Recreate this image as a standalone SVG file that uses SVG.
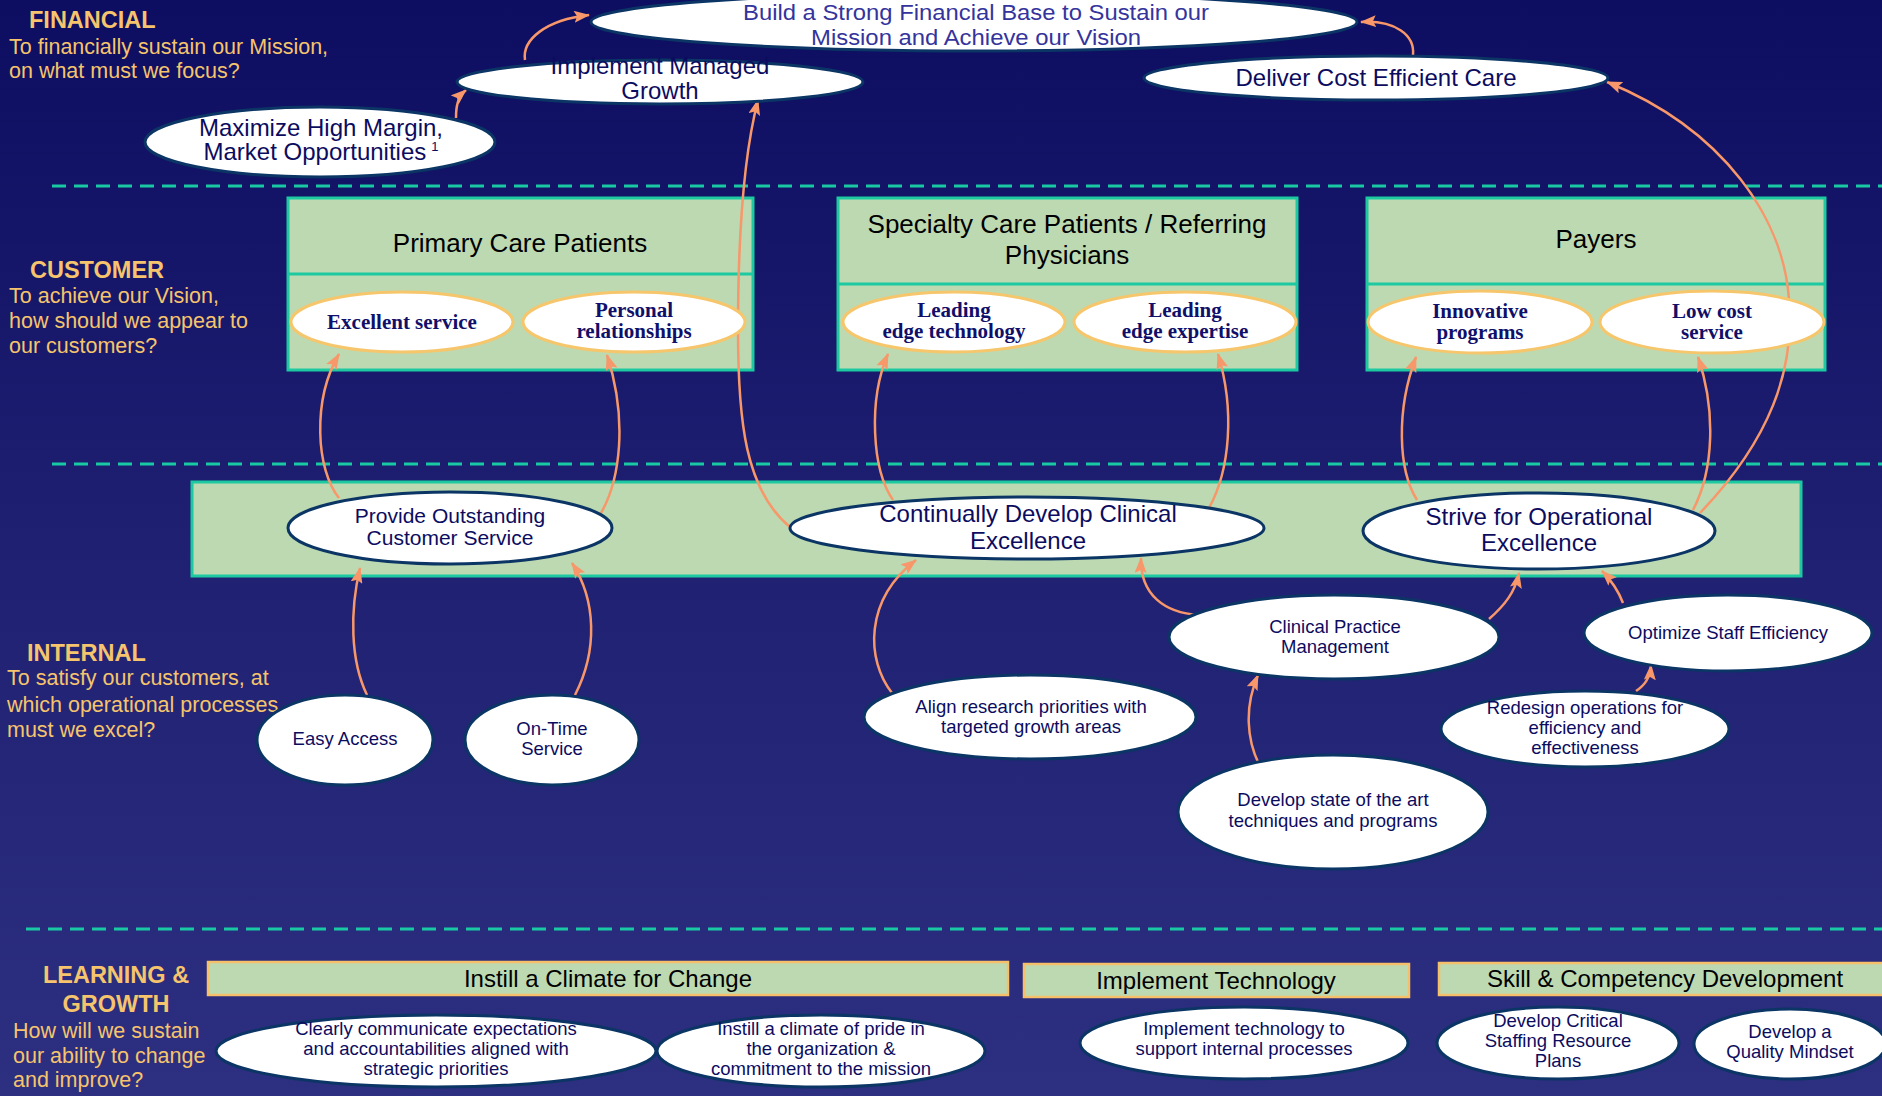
<svg xmlns="http://www.w3.org/2000/svg" width="1882" height="1096" viewBox="0 0 1882 1096">
<defs>
<linearGradient id="bg" x1="0" y1="0" x2="0" y2="1">
<stop offset="0" stop-color="#0d0d61"/>
<stop offset="0.5" stop-color="#1f2072"/>
<stop offset="1" stop-color="#2d2f80"/>
</linearGradient>
<marker id="ah" viewBox="0 0 16 12" refX="15" refY="6" markerWidth="16" markerHeight="12" markerUnits="userSpaceOnUse" orient="auto">
<path d="M0,0 L16,6 L0,12 L3,6 z" fill="#f7976a"/>
</marker>
<style>
.lbl{font-family:"Liberation Sans",Arial,sans-serif;fill:#f6c46c;}
.hd{font-size:23.5px;font-weight:bold;}
.sub{font-size:21.5px;}
.div{stroke:#19c9a3;stroke-width:3;stroke-dasharray:14 8;fill:none;}
.node{fill:#fff;stroke:#0b3565;stroke-width:3;}
.cnode{fill:#fff;stroke:#f6c66c;stroke-width:3;}
.box{fill:#bdd9b1;stroke:#1cc9a0;stroke-width:3;}
.lbox{fill:#bdd9b1;stroke:#f6c06a;stroke-width:2.5;}
.t{font-family:"Liberation Sans",Arial,sans-serif;fill:#0c0c5f;text-anchor:middle;}
.ts{font-family:"Liberation Serif","Times New Roman",serif;font-weight:bold;fill:#10106a;text-anchor:middle;font-size:21px;}
.tb{font-family:"Liberation Sans",Arial,sans-serif;fill:#000;text-anchor:middle;}
.f24{font-size:24px;}
.f22{font-size:22px;}
.f21{font-size:21px;}
.f18{font-size:18.5px;}
.f26{font-size:26px;}
.c{fill:none;stroke:#f7976a;stroke-width:2.5;marker-end:url(#ah);}
</style>
</defs>
<rect x="0" y="0" width="1882" height="1096" fill="url(#bg)"/>

<g id="labels">
<text class="lbl hd" x="29" y="28">FINANCIAL</text>
<text class="lbl sub" x="9" y="54">To financially sustain our Mission,</text>
<text class="lbl sub" x="9" y="78">on what must we focus?</text>
<text class="lbl hd" x="30" y="278">CUSTOMER</text>
<text class="lbl sub" x="9" y="303">To achieve our Vision,</text>
<text class="lbl sub" x="9" y="328">how should we appear to</text>
<text class="lbl sub" x="9" y="353">our customers?</text>
<text class="lbl hd" x="27" y="661">INTERNAL</text>
<text class="lbl sub" x="7" y="685">To satisfy our customers, at</text>
<text class="lbl sub" x="7" y="712">which operational processes</text>
<text class="lbl sub" x="7" y="737">must we excel?</text>
<text class="lbl hd" x="116" y="983" text-anchor="middle">LEARNING &amp;</text>
<text class="lbl hd" x="116" y="1012" text-anchor="middle">GROWTH</text>
<text class="lbl sub" x="13" y="1038">How will we sustain</text>
<text class="lbl sub" x="13" y="1063">our ability to change</text>
<text class="lbl sub" x="13" y="1087">and improve?</text>
</g>

<g id="dividers">
<line class="div" x1="52" y1="186" x2="1882" y2="186"/>
<line class="div" x1="52" y1="464" x2="1882" y2="464"/>
<line class="div" x1="26" y1="929" x2="1882" y2="929"/>
</g>

<g id="customer-boxes">
<g id="box-primary">
<rect class="box" x="288" y="198" width="465" height="172"/>
<line x1="288" y1="274" x2="753" y2="274" stroke="#1cc9a0" stroke-width="3"/>
<text class="tb f26" x="520" y="252">Primary Care Patients</text>
</g>
<g id="box-specialty">
<rect class="box" x="838" y="198" width="459" height="172"/>
<line x1="838" y1="284" x2="1297" y2="284" stroke="#1cc9a0" stroke-width="3"/>
<text class="tb f26" x="1067" y="233">Specialty Care Patients / Referring</text>
<text class="tb f26" x="1067" y="264">Physicians</text>
</g>
<g id="box-payers">
<rect class="box" x="1367" y="198" width="458" height="172"/>
<line x1="1367" y1="284" x2="1825" y2="284" stroke="#1cc9a0" stroke-width="3"/>
<text class="tb f26" x="1596" y="248">Payers</text>
</g>
</g>

<g id="internal-band">
<rect class="box" x="192" y="482" width="1609" height="94"/>
</g>

<g id="learning-boxes">
<g id="box-climate">
<rect class="lbox" x="208" y="962" width="800" height="33"/>
<text class="tb f24" x="608" y="987">Instill a Climate for Change</text>
</g>
<g id="box-technology">
<rect class="lbox" x="1024" y="964" width="385" height="33"/>
<text class="tb f24" x="1216" y="989">Implement Technology</text>
</g>
<g id="box-skill">
<rect class="lbox" x="1439" y="963" width="460" height="32"/>
<text class="tb f24" x="1665" y="987">Skill &amp; Competency Development</text>
</g>
</g>

<g id="connectors">
<path class="c" d="M456,118 C456,105 458,97 466,90"/>
<path class="c" d="M525,60 C522,40 545,20 589,15"/>
<path class="c" d="M1413,55 C1415,35 1395,20 1361,22"/>
<path class="c" d="M790,527 C745,490 738,420 738,330 C738,230 745,150 758,100"/>
<path class="c" d="M1700,513 C1770,440 1795,370 1789,300 C1784,220 1725,130 1607,82"/>
<path class="c" d="M339,498 C316,470 312,400 339,354"/>
<path class="c" d="M601,513 C620,480 628,420 607,355"/>
<path class="c" d="M367,695 C350,660 350,610 360,568"/>
<path class="c" d="M575,695 C598,650 596,600 572,563"/>
<path class="c" d="M893,500 C872,470 868,400 888,354"/>
<path class="c" d="M1209,508 C1230,470 1235,410 1218,354"/>
<path class="c" d="M1417,500 C1398,470 1396,410 1416,357"/>
<path class="c" d="M1693,510 C1714,470 1716,410 1698,357"/>
<path class="c" d="M892,693 C866,660 864,600 916,560"/>
<path class="c" d="M1199,615 C1165,613 1140,595 1141,558"/>
<path class="c" d="M1489,619 C1505,605 1515,592 1519,573"/>
<path class="c" d="M1623,603 C1618,590 1611,580 1602,571"/>
<path class="c" d="M1636,691 C1645,685 1650,678 1651,665"/>
<path class="c" d="M1262,770 C1245,740 1245,705 1258,675"/>
</g>

<g id="n-build">
<ellipse class="node" cx="974" cy="22" rx="383" ry="29"/>
<text class="t f22" x="976" y="20" textLength="466" lengthAdjust="spacingAndGlyphs" style="fill:#34349c">Build a Strong Financial Base to Sustain our</text>
<text class="t f22" x="976" y="45" textLength="330" lengthAdjust="spacingAndGlyphs" style="fill:#34349c">Mission and Achieve our Vision</text>
</g>
<g id="n-managed">
<ellipse class="node" cx="660" cy="82" rx="203" ry="22"/>
<text class="t f24" x="660" y="74">Implement Managed</text>
<text class="t f24" x="660" y="99">Growth</text>
</g>
<g id="n-maximize">
<ellipse class="node" cx="320" cy="142" rx="175" ry="35"/>
<text class="t f24" x="321" y="136">Maximize High Margin,</text>
<text class="t f24" x="321" y="160">Market Opportunities<tspan dx="5" dy="-9" font-size="13">1</tspan></text>
</g>
<g id="n-deliver">
<ellipse class="node" cx="1376" cy="78" rx="232" ry="22"/>
<text class="t f24" x="1376" y="86">Deliver Cost Efficient Care</text>
</g>

<g id="n-excellent">
<ellipse class="cnode" cx="402" cy="322" rx="111" ry="30"/>
<text class="ts" x="402" y="329">Excellent service</text>
</g>
<g id="n-personal">
<ellipse class="cnode" cx="634" cy="322" rx="111" ry="30"/>
<text class="ts" x="634" y="317">Personal</text>
<text class="ts" x="634" y="338">relationships</text>
</g>
<g id="n-tech">
<ellipse class="cnode" cx="954" cy="322" rx="111" ry="30"/>
<text class="ts" x="954" y="317">Leading</text>
<text class="ts" x="954" y="338">edge technology</text>
</g>
<g id="n-expertise">
<ellipse class="cnode" cx="1185" cy="322" rx="111" ry="30"/>
<text class="ts" x="1185" y="317">Leading</text>
<text class="ts" x="1185" y="338">edge expertise</text>
</g>
<g id="n-innovative">
<ellipse class="cnode" cx="1480" cy="322" rx="112" ry="31"/>
<text class="ts" x="1480" y="318">Innovative</text>
<text class="ts" x="1480" y="339">programs</text>
</g>
<g id="n-lowcost">
<ellipse class="cnode" cx="1712" cy="322" rx="112" ry="31"/>
<text class="ts" x="1712" y="318">Low cost</text>
<text class="ts" x="1712" y="339">service</text>
</g>

<g id="n-provide">
<ellipse class="node" cx="450" cy="528" rx="162" ry="36"/>
<text class="t f21" x="450" y="523">Provide Outstanding</text>
<text class="t f21" x="450" y="545">Customer Service</text>
</g>
<g id="n-clinical-exc">
<ellipse class="node" cx="1027" cy="528" rx="237" ry="31"/>
<text class="t f24" x="1028" y="522">Continually Develop Clinical</text>
<text class="t f24" x="1028" y="549">Excellence</text>
</g>
<g id="n-strive">
<ellipse class="node" cx="1539" cy="531" rx="176" ry="38"/>
<text class="t f24" x="1539" y="525">Strive for Operational</text>
<text class="t f24" x="1539" y="551">Excellence</text>
</g>
<g id="n-easy">
<ellipse class="node" cx="345" cy="740" rx="88" ry="45"/>
<text class="t f18" x="345" y="745">Easy Access</text>
</g>
<g id="n-ontime">
<ellipse class="node" cx="552" cy="740" rx="87" ry="45"/>
<text class="t f18" x="552" y="735">On-Time</text>
<text class="t f18" x="552" y="755">Service</text>
</g>
<g id="n-align">
<ellipse class="node" cx="1030" cy="717" rx="166" ry="42"/>
<text class="t f18" x="1031" y="713">Align research priorities with</text>
<text class="t f18" x="1031" y="733">targeted growth areas</text>
</g>
<g id="n-cpm">
<ellipse class="node" cx="1334" cy="637" rx="165" ry="42"/>
<text class="t f18" x="1335" y="633">Clinical Practice</text>
<text class="t f18" x="1335" y="653">Management</text>
</g>
<g id="n-optimize">
<ellipse class="node" cx="1728" cy="633" rx="144" ry="38"/>
<text class="t f18" x="1728" y="639">Optimize Staff Efficiency</text>
</g>
<g id="n-redesign">
<ellipse class="node" cx="1585" cy="729" rx="144" ry="38"/>
<text class="t f18" x="1585" y="714">Redesign operations for</text>
<text class="t f18" x="1585" y="734">efficiency and</text>
<text class="t f18" x="1585" y="754">effectiveness</text>
</g>
<g id="n-stateart">
<ellipse class="node" cx="1333" cy="812" rx="155" ry="57"/>
<text class="t f18" x="1333" y="806">Develop state of the art</text>
<text class="t f18" x="1333" y="827">techniques and programs</text>
</g>

<g id="n-communicate">
<ellipse class="node" cx="436" cy="1051" rx="220" ry="36"/>
<text class="t f18" x="436" y="1035">Clearly communicate expectations</text>
<text class="t f18" x="436" y="1055">and accountabilities aligned with</text>
<text class="t f18" x="436" y="1075">strategic priorities</text>
</g>
<g id="n-pride">
<ellipse class="node" cx="821" cy="1051" rx="164" ry="36"/>
<text class="t f18" x="821" y="1035">Instill a climate of pride in</text>
<text class="t f18" x="821" y="1055">the organization &amp;</text>
<text class="t f18" x="821" y="1075">commitment to the mission</text>
</g>
<g id="n-impltech">
<ellipse class="node" cx="1244" cy="1043" rx="164" ry="36"/>
<text class="t f18" x="1244" y="1035">Implement technology to</text>
<text class="t f18" x="1244" y="1055">support internal processes</text>
</g>
<g id="n-staffing">
<ellipse class="node" cx="1558" cy="1043" rx="121" ry="36"/>
<text class="t f18" x="1558" y="1027">Develop Critical</text>
<text class="t f18" x="1558" y="1047">Staffing Resource</text>
<text class="t f18" x="1558" y="1067">Plans</text>
</g>
<g id="n-quality">
<ellipse class="node" cx="1790" cy="1044" rx="96" ry="35"/>
<text class="t f18" x="1790" y="1038">Develop a</text>
<text class="t f18" x="1790" y="1058">Quality Mindset</text>
</g>
</svg>
